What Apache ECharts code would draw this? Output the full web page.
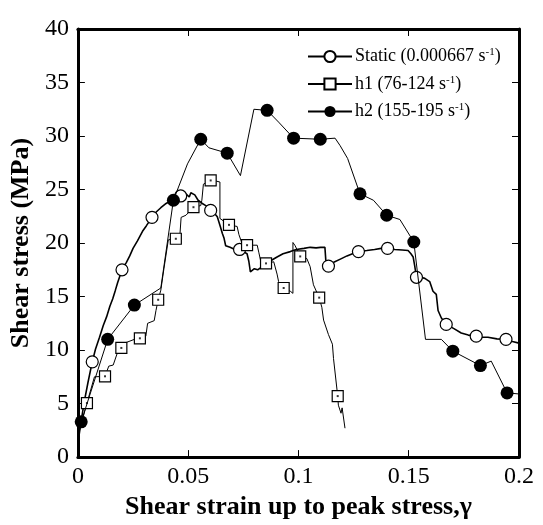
<!DOCTYPE html>
<html>
<head>
<meta charset="utf-8">
<script src="https://cdn.jsdelivr.net/npm/echarts@6/dist/echarts.min.js"></script>
<style>
html,body{margin:0;padding:0;background:#fff;}
#chart{width:543px;height:525px;}
</style>
</head>
<body>
<div id="chart"></div>
<script>
// ---- data ----
var xTicks = [0, 0.05, 0.1, 0.15, 0.2];
var yTicks = [0, 5, 10, 15, 20, 25, 30, 35, 40];
var seriesNames = ['Static', 'h1', 'h2'];
var legendLabels = ['Static (0.000667 s{sup|-1})', 'h1 (76-124 s{sup|-1})', 'h2 (155-195 s{sup|-1})'];

// Static test curve (x = shear strain, y = shear stress MPa)
var staticPts = [
  [0.0005,2.0],[0.0015,3.4],[0.003,5.3],[0.0045,6.9],[0.0065,8.9],[0.008,10.1],[0.0098,11.2],
  [0.0115,12.3],[0.013,13.1],[0.0145,14.1],[0.0158,14.8],[0.017,15.6],[0.018,16.3],[0.020,17.5],
  [0.022,18.2],[0.0235,18.8],[0.025,19.5],[0.027,20.2],[0.0293,21.1],[0.031,21.6],[0.0336,22.4],
  [0.0355,22.9],[0.0376,23.3],[0.040,23.7],[0.0421,23.95],[0.044,24.2],[0.0466,24.4],[0.049,24.6],
  [0.0505,24.3],[0.0512,24.7],[0.053,24.5],[0.0545,24.0],[0.0564,23.7],[0.058,23.5],[0.0602,23.05],
  [0.0618,22.8],[0.0632,22.45],[0.0645,21.6],[0.0655,20.9],[0.0662,20.5],[0.067,19.75],[0.069,19.6],
  [0.0707,19.45],[0.0733,19.4],[0.075,19.2],[0.0767,19.0],[0.0775,18.3],[0.0782,17.3],[0.080,17.6],
  [0.0815,17.5],[0.0843,17.9],[0.087,18.3],[0.0903,18.7],[0.093,19.0],[0.0963,19.2],[0.099,19.4],
  [0.1025,19.5],[0.1053,19.6],[0.108,19.55],[0.110,19.6],[0.112,19.6],[0.1124,18.4],[0.1136,17.85],
  [0.116,18.2],[0.119,18.5],[0.122,18.8],[0.1245,19.0],[0.1272,19.2],[0.131,19.3],[0.1345,19.4],
  [0.1375,19.5],[0.1404,19.5],[0.1437,19.4],[0.147,19.35],[0.1497,19.3],[0.151,19.0],[0.152,18.7],
  [0.1527,17.9],[0.1535,16.8],[0.1555,16.8],[0.1573,16.7],[0.1595,16.4],[0.161,15.5],[0.1625,15.2],
  [0.1633,13.7],[0.1648,13.0],[0.167,12.4],[0.1705,12.0],[0.1738,11.6],[0.177,11.4],[0.1806,11.3],
  [0.1835,11.2],[0.1859,11.2],[0.190,11.05],[0.1941,11.0],[0.197,10.8],[0.200,10.65]
];
var staticMarks = [4, 13, 20, 26, 34, 43, 62, 67, 71, 78, 86, 90, 94];

// h1 test curve
var h1Pts = [
  [0.0005,2.3],[0.0041,5.05],[0.0075,7.5],[0.0123,7.55],[0.014,8.5],[0.016,8.6],[0.018,9.8],
  [0.0197,10.2],[0.0218,10.7],[0.0256,11.0],[0.0281,11.1],[0.0308,11.3],[0.0316,12.5],[0.0346,12.75],
  [0.0354,13.7],[0.0364,14.7],[0.0376,15.6],[0.039,17.6],[0.041,20.3],[0.0444,20.4],[0.0462,20.6],
  [0.0468,22.4],[0.049,22.6],[0.0524,23.35],[0.0557,23.5],[0.0562,24.0],[0.0569,25.5],[0.0602,25.85],
  [0.0625,25.8],[0.0644,25.7],[0.0644,22.3],[0.0685,21.7],[0.0722,21.55],[0.073,20.8],[0.0745,19.9],
  [0.0767,19.8],[0.0813,19.8],[0.082,19.15],[0.0828,18.4],[0.0853,18.1],[0.0888,18.25],[0.0903,17.1],
  [0.091,16.4],[0.0933,15.8],[0.0963,15.5],[0.0975,15.3],[0.0975,20.05],[0.0985,19.75],[0.1008,18.75],
  [0.1038,18.55],[0.1053,17.8],[0.1068,16.1],[0.1094,14.9],[0.1106,14.0],[0.1114,12.8],[0.1136,11.45],
  [0.1154,10.55],[0.1159,9.2],[0.1178,5.7],[0.1181,4.85],[0.1193,4.1],[0.1198,4.6],[0.1211,2.7]
];
var h1Marks = [1, 3, 7, 10, 15, 19, 23, 27, 31, 35, 39, 43, 48, 52, 58];

// h2 test curve
var h2Pts = [
  [0.0,2.3],[0.0015,3.3],[0.0135,11.0],[0.0256,14.2],[0.0376,15.8],[0.0433,24.0],[0.0497,27.4],
  [0.0557,29.7],[0.0594,28.9],[0.0677,28.4],[0.0737,26.3],[0.0798,32.5],[0.0858,32.4],[0.091,31.3],
  [0.0978,29.8],[0.1099,29.7],[0.1166,29.8],[0.1189,29.1],[0.1223,27.9],[0.1279,24.6],[0.134,24.0],
  [0.140,22.6],[0.146,22.2],[0.1523,20.1],[0.1576,11.0],[0.1648,11.0],[0.170,9.9],[0.1825,8.55],
  [0.1874,8.97],[0.1946,6.0],[0.200,5.9]
];
var h2Marks = [1, 2, 3, 5, 7, 9, 12, 14, 15, 19, 21, 23, 26, 27, 29];

// ---- build ----
function withMarks(pts, marks) {
  return pts.map(function (p, i) {
    return marks.indexOf(i) >= 0 ? { value: p } : { value: p, symbol: 'none' };
  });
}
var FONT = 'Liberation Serif';
var chart = echarts.init(document.getElementById('chart'), null, { renderer: 'canvas' });

function axisCommon(extra) {
  var base = {
    type: 'value',
    splitLine: { show: false },
    axisLine: { show: true, onZero: false, lineStyle: { color: '#000', width: 3 } },
    axisTick: { show: true, inside: true, length: 7, lineStyle: { color: '#000', width: 1 } }
  };
  for (var k in extra) base[k] = extra[k];
  return base;
}
var xMin = xTicks[0], xMax = xTicks[xTicks.length - 1], xInt = xTicks[1] - xTicks[0];
var yMin = yTicks[0], yMax = yTicks[yTicks.length - 1], yInt = yTicks[1] - yTicks[0];

var option = {
  animation: false,
  backgroundColor: '#fff',
  grid: { left: 75, right: 24, top: 29, bottom: 53, containLabel: false },
  legend: {
    orient: 'vertical',
    left: 302,
    top: 42,
    itemWidth: 44,
    itemHeight: 14,
    itemGap: 9,
    data: seriesNames,
    formatter: function (name) { return legendLabels[seriesNames.indexOf(name)]; },
    textStyle: {
      fontFamily: FONT, fontSize: 18, color: '#000', padding: [0, 0, 0, -2],
      rich: { sup: { fontFamily: FONT, fontSize: 11, color: '#000', verticalAlign: 'top', padding: [0, 0, 8, 0] } }
    }
  },
  xAxis: [
    axisCommon({
      position: 'bottom', min: xMin, max: xMax, interval: xInt,
      axisLabel: { fontFamily: FONT, fontSize: 24, color: '#000', margin: 8,
        formatter: function (v) { return String(+v.toFixed(2)); } },
      name: 'Shear strain up to peak stress,\u03b3', nameLocation: 'middle', nameGap: 30,
      nameTextStyle: { fontFamily: FONT, fontSize: 26, fontWeight: 'bold', color: '#000' }
    }),
    axisCommon({ position: 'top', min: xMin, max: xMax, interval: xInt, axisLabel: { show: false } })
  ],
  yAxis: [
    axisCommon({
      position: 'left', min: yMin, max: yMax, interval: yInt,
      axisLabel: { fontFamily: FONT, fontSize: 24, color: '#000', margin: 9 },
      name: 'Shear stress (MPa)', nameLocation: 'middle', nameGap: 34,
      nameTextStyle: { fontFamily: FONT, fontSize: 26, fontWeight: 'bold', color: '#000' }
    }),
    axisCommon({ position: 'right', min: yMin, max: yMax, interval: yInt, axisLabel: { show: false } })
  ],
  series: [
    {
      name: seriesNames[0], type: 'line', xAxisIndex: 0, yAxisIndex: 0,
      data: withMarks(staticPts, staticMarks), showAllSymbol: true,
      symbol: 'circle', symbolSize: 12,
      itemStyle: { color: '#fff', borderColor: '#000', borderWidth: 1.2 },
      lineStyle: { color: '#000', width: 1.6 }, z: 3
    },
    {
      name: seriesNames[1], type: 'line', xAxisIndex: 0, yAxisIndex: 0,
      data: withMarks(h1Pts, h1Marks), showAllSymbol: true,
      symbol: 'rect', symbolSize: 11,
      itemStyle: { color: '#fff', borderColor: '#000', borderWidth: 1.2 },
      lineStyle: { color: '#000', width: 1 }, z: 4
    },
    {
      type: 'scatter', xAxisIndex: 0, yAxisIndex: 0, silent: true,
      data: h1Marks.map(function (i) { return h1Pts[i]; }),
      symbol: 'rect', symbolSize: 2, itemStyle: { color: '#000' }, z: 6
    },
    {
      name: seriesNames[2], type: 'line', xAxisIndex: 0, yAxisIndex: 0,
      data: withMarks(h2Pts, h2Marks), showAllSymbol: true,
      symbol: 'circle', symbolSize: 13,
      itemStyle: { color: '#000', borderColor: '#000', borderWidth: 0 },
      lineStyle: { color: '#000', width: 1 }, z: 5
    }
  ]
};
chart.setOption(option);
</script>
</body>
</html>
